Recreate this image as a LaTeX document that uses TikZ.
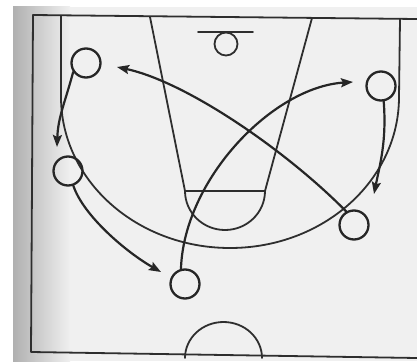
\documentclass[tikz,border=0pt]{standalone}
\usetikzlibrary{arrows.meta}

\begin{document}
\begin{tikzpicture}[x=1pt,y=-1pt,line cap=round,line join=round,
  court/.style={draw=black!82,line width=1.8pt},
  player/.style={circle,draw=black!85,line width=2.3pt,minimum size=29pt,inner sep=0pt},
  move/.style={draw=black!85,line width=2.2pt,-{Stealth[length=12pt,width=9pt,inset=2pt]}}]
  \useasboundingbox (0,0) rectangle (417,361);
  % scanned page
  \fill[white] (0,0) rectangle (417,361);
  \fill[gray!12] (13,7) rectangle (417,361);
  \shade[left color=gray!62,right color=gray!12] (13,7) rectangle (70,361);
  % court
  \draw[court] (417,19) -- (33,15) -- (31,352) -- (417,358);
  \draw[court] (61,16) -- (61,97) arc[start angle=180,end angle=0,x radius=169,y radius=151] -- (400,19);
  \draw[court] (150,17) -- (185,191) arc[start angle=180,end angle=0,x radius=40,y radius=39] -- (312,18);
  \draw[court] (185,191) -- (265,191);
  \draw[court] (198,32) -- (253,32);
  \draw[court] (226,44) circle (11.5);
  \draw[court] (185,358) arc[start angle=180,end angle=360,x radius=38.5,y radius=36];
  % players
  \node[player] (p1) at (86,63) {};
  \node[player] (p2) at (68,171) {};
  \node[player] (p3) at (185,284) {};
  \node[player] (p4) at (381,86) {};
  \node[player] (p5) at (354,225) {};
  % cuts
  \coordinate (a1) at (57,147);
  \coordinate (a2) at (161,272);
  \coordinate (a3) at (353,82);
  \coordinate (a4) at (117,67);
  \coordinate (a5) at (374,194);
  \draw[move] (p1.215) .. controls +(-8,30) and +(1,-30) .. (a1);
  \draw[move] (p2.290) .. controls +(10,30) and +(-35,-20) .. (a2);
  \draw[move] (p3.105) .. controls +(3,-90) and +(-80,5) .. (a3);
  \draw[move] (p5.120) .. controls +(-59,-60) and +(70,15) .. (a4);
  \draw[move] (p4.280) .. controls +(3,40) and +(6,-30) .. (a5);
\end{tikzpicture}
\end{document}
